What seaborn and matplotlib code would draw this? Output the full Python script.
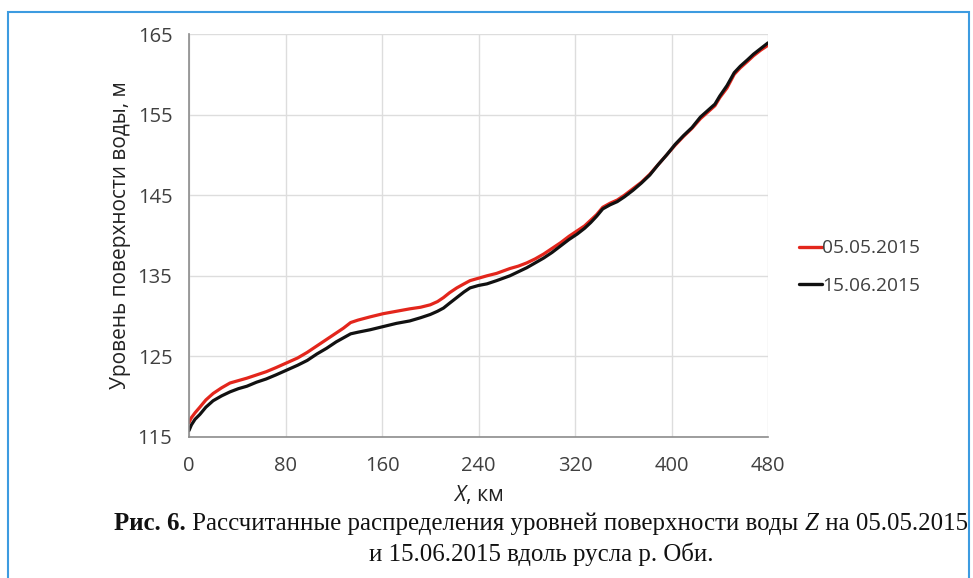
"""
Уровни поверхности воды вдоль русла р. Оби (05.05.2015 и 15.06.2015)
"""

import pandas as pd
import numpy as np
import matplotlib
matplotlib.use('Agg')
import matplotlib.pyplot as plt
import matplotlib.patches as patches
import seaborn as sns

# Данные
x_km = [0, 2, 5, 9, 14, 20, 27, 34, 41, 48, 56, 64, 72, 81, 90, 98, 106, 114,
        122, 128, 134, 140, 150, 161, 172, 183, 192, 200, 206, 211, 216, 222,
        228, 233, 240, 247, 255, 266, 273, 280, 287, 294, 301, 308, 315, 322,
        328, 333, 338, 343, 349, 355, 361, 368, 375, 382, 389, 396, 403, 410,
        417, 424, 430, 436, 440, 446, 452, 457, 463, 468, 474, 480]
z_0505 = [116.8, 117.4, 118.0, 118.7, 119.6, 120.4, 121.1, 121.7, 122.0, 122.3,
          122.7, 123.1, 123.6, 124.2, 124.8, 125.5, 126.3, 127.1, 127.9, 128.5,
          129.2, 129.5, 129.9, 130.3, 130.6, 130.9, 131.1, 131.4, 131.8, 132.3,
          132.9, 133.5, 134.0, 134.4, 134.7, 135.0, 135.3, 135.9, 136.2, 136.6,
          137.1, 137.7, 138.4, 139.1, 139.9, 140.6, 141.2, 141.9, 142.6, 143.5,
          144.0, 144.4, 145.0, 145.8, 146.6, 147.6, 148.8, 150.0, 151.2, 152.3,
          153.3, 154.5, 155.3, 156.1, 157.1, 158.3, 160.0, 160.8, 161.6, 162.3,
          163.0, 163.6]
z_1506 = [115.8, 116.5, 117.2, 117.8, 118.7, 119.5, 120.1, 120.6, 121.0, 121.3,
          121.8, 122.2, 122.7, 123.3, 123.9, 124.5, 125.3, 126.0, 126.8, 127.3,
          127.8, 128.0, 128.3, 128.7, 129.1, 129.4, 129.8, 130.2, 130.6, 131.0,
          131.6, 132.3, 133.0, 133.5, 133.8, 134.0, 134.4, 135.0, 135.5, 136.0,
          136.6, 137.2, 137.9, 138.7, 139.5, 140.2, 140.9, 141.6, 142.4, 143.3,
          143.8, 144.2, 144.8, 145.6, 146.5, 147.5, 148.8, 150.0, 151.3, 152.4,
          153.4, 154.7, 155.5, 156.3, 157.3, 158.6, 160.2, 161.0, 161.8, 162.5,
          163.2, 163.9]
dates = ['05.05.2015', '15.06.2015']
x_ticks = [0, 80, 160, 240, 320, 400, 480]
y_ticks = [115, 125, 135, 145, 155, 165]

RED = '#e3261c'
BLACK = '#111111'
TXT = '#404040'

df = pd.DataFrame({
    'x': x_km * 2,
    'z': z_0505 + z_1506,
    'date': [dates[0]] * len(x_km) + [dates[1]] * len(x_km),
})

sns.set_style('white')
plt.rcParams['font.family'] = ['Open Sans', 'DejaVu Sans']
plt.rcParams['mathtext.fontset'] = 'custom'
plt.rcParams['mathtext.it'] = 'Open Sans:italic'

fig = plt.figure(figsize=(9.73, 5.78), dpi=100)
ax = fig.add_axes([189 / 973, 1 - 437 / 578, (768 - 189) / 973, (437 - 34) / 578])

sns.lineplot(data=df, x='x', y='z', hue='date', hue_order=dates,
             palette=[RED, BLACK], linewidth=2.3, ax=ax, legend=False)

ax.set_xlim(0, 480)
ax.set_ylim(115, 165)
ax.set_xticks(x_ticks)
ax.set_yticks(y_ticks)
ax.grid(True, color='#dddddd', lw=1)
ax.tick_params(labelsize=14.5, colors=TXT, length=0)
ax.tick_params(axis='y', pad=12)
ax.tick_params(axis='x', pad=14)
for s in ['top', 'right']:
    ax.spines[s].set_visible(False)
for s in ['left', 'bottom']:
    ax.spines[s].set_color('#8c8c8c')
    ax.spines[s].set_linewidth(1.2)

ax.set_xlabel(r'$X$, км', fontsize=15.5, color='#222222', labelpad=5)
ax.set_ylabel('Уровень поверхности воды, м', fontsize=15, color='#222222', labelpad=5)

handles = [plt.Line2D([], [], color=RED, lw=2.4),
           plt.Line2D([], [], color=BLACK, lw=2.4)]
fig.legend(handles, dates, loc='center left', bbox_to_anchor=(782 / 973, 1 - 267 / 578),
           frameon=False, fontsize=13.8, handlelength=1.2, handletextpad=0.0,
           labelspacing=1.0, labelcolor=TXT)

# Рамка
fig.patches.append(patches.Rectangle((8 / 973, -0.02), (969 - 8) / 973, 1 - 12 / 578 + 0.02,
                                     transform=fig.transFigure, fill=False,
                                     edgecolor='#3d9be0', lw=1.5))

# Подпись
cap = dict(fontsize=17.9, color='#111111', va='baseline', family='Liberation Serif')
r = fig.canvas.get_renderer()
parts = [('Рис. 6.', 'bold', 'normal'),
         (' Рассчитанные распределения уровней поверхности воды ', 'normal', 'normal'),
         ('Z', 'normal', 'italic'),
         (' на 05.05.2015', 'normal', 'normal')]
objs = []
for txt, w, st in parts:
    objs.append(fig.text(0, 1 - 530 / 578, txt, weight=w, style=st, **cap))
widths = [o.get_window_extent(r).width for o in objs]
x0 = 541 - sum(widths) / 2
for o, wd in zip(objs, widths):
    o.set_x(x0 / 973)
    x0 += wd
fig.text(541 / 973, 1 - 561 / 578, 'и 15.06.2015 вдоль русла р. Оби.', ha='center', **cap)

fig.savefig('out.png', dpi=100)
